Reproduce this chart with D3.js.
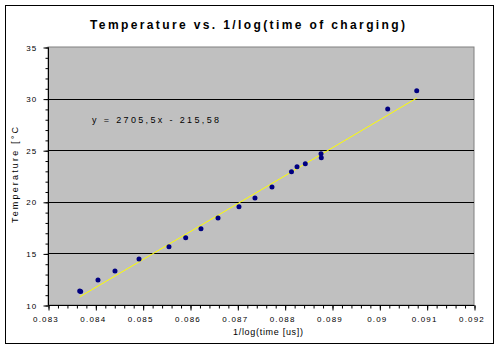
<!DOCTYPE html>
<html><head><meta charset="utf-8">
<script src="https://cdn.jsdelivr.net/npm/d3@7/dist/d3.min.js"></script>
<style>body{margin:0;background:#fff}svg{display:block}text{font-family:Arial,"Liberation Sans",sans-serif}</style>
</head><body><svg id="c" width="500" height="350"></svg>
<script>
const xValues = [0.08367,0.08369,0.084056,0.084415,0.084923,0.085556,0.085909,0.086232,0.086592,0.087035,0.087373,0.087732,0.088144,0.088261,0.088436,0.088768,0.088774,0.090177,0.090790];
const yValues = [11.35,11.30,12.42,13.29,14.46,15.65,16.52,17.39,18.43,19.53,20.37,21.43,22.92,23.40,23.69,24.66,24.27,28.99,30.77];
const xTicks = [0.083,0.084,0.085,0.086,0.087,0.088,0.089,0.09,0.091,0.092];
const xTickLabels = ["0.083","0.084","0.085","0.086","0.087","0.088","0.089","0.09","0.091","0.092"];
const yTicks = [10,15,20,25,30,35];
const trendSlope = 2705.5, trendIntercept = -215.58;
const equationText = "y = 2705,5x - 215,58";
const titleText = "Temperature vs. 1/log(time of charging)";
const xLabel = "1/log(time [us])";
const yLabel = "Temperature [°C";

const svg = d3.select("#c");
const L=48,R=474,T=47,B=305;
const x = d3.scaleLinear().domain([0.083,0.092]).range([L,R]);
const y = d3.scaleLinear().domain([10,35]).range([B,T]);

svg.append("rect").attr("x",5.5).attr("y",5.5).attr("width",488).attr("height",338).attr("fill","#fff").attr("stroke","#000");
svg.append("rect").attr("x",L).attr("y",T).attr("width",R-L).attr("height",B-T).attr("fill","#c0c0c0").attr("stroke","#808080");

// gridlines
svg.append("g").selectAll("line").data(yTicks.filter(d=>d>10&&d<35)).join("line")
  .attr("x1",L).attr("x2",R).attr("y1",d=>Math.round(y(d))+0.5).attr("y2",d=>Math.round(y(d))+0.5)
  .attr("stroke","#000");

// axes
const yMinor = d3.range(10,36,1);
svg.append("g").attr("transform",`translate(${L+0.5},0.5)`).call(d3.axisLeft(y).tickValues(yMinor).tickSize(3).tickFormat(""))
  .call(g=>g.select(".domain").remove());
const yAxis = d3.axisLeft(y).tickValues(yTicks).tickSize(5).tickPadding(6).tickFormat(d3.format("d"));
svg.append("g").attr("transform",`translate(${L+0.5},0.5)`).call(yAxis)
  .call(g=>g.selectAll("text").attr("font-size",8).attr("letter-spacing",1.2).attr("fill","#000"))
  .call(g=>g.select(".domain").attr("d",`M0,${T}V${B}`));

const xMinor = d3.range(0,46).map(i=>0.083+i*0.0002);
svg.append("g").attr("transform",`translate(0.5,${B+0.5})`).call(d3.axisBottom(x).tickValues(xMinor).tickSize(3).tickFormat(""))
  .call(g=>g.select(".domain").remove());
const xAxis = d3.axisBottom(x).tickValues(xTicks).tickSize(5).tickPadding(6).tickFormat((d,i)=>xTickLabels[i]);
svg.append("g").attr("transform",`translate(0.5,${B+0.5})`).call(xAxis)
  .call(g=>g.selectAll("text").attr("font-size",8).attr("letter-spacing",1.2).attr("dx",-3).attr("fill","#000"))
  .call(g=>g.select(".domain").attr("d",`M${L},0H${R}`));

// trendline
const xmin=d3.min(xValues), xmax=d3.max(xValues);
svg.append("line").attr("x1",x(xmin)).attr("y1",y(trendSlope*xmin+trendIntercept))
  .attr("x2",x(xmax)).attr("y2",y(trendSlope*xmax+trendIntercept))
  .attr("stroke","#ffff00").attr("stroke-width",1);

// points
svg.append("g").selectAll("circle").data(xValues.map((d,i)=>[d,yValues[i]])).join("circle")
  .attr("cx",d=>x(d[0])).attr("cy",d=>y(d[1])).attr("r",2.5).attr("fill","#000080");

// texts
svg.append("text").attr("x",92).attr("y",123).attr("font-size",9).attr("textLength",127).attr("lengthAdjust","spacing").text(equationText);
svg.append("text").attr("x",90).attr("y",29).attr("font-size",12).attr("font-weight","bold")
  .attr("textLength",315).attr("lengthAdjust","spacing").text(titleText);
svg.append("text").attr("x",233).attr("y",335).attr("font-size",9).attr("textLength",70).attr("lengthAdjust","spacing").text(xLabel);
svg.append("text").attr("transform","translate(18,223) rotate(-90)").attr("font-size",9).attr("textLength",96).attr("lengthAdjust","spacing").text(yLabel);
</script></body></html>
